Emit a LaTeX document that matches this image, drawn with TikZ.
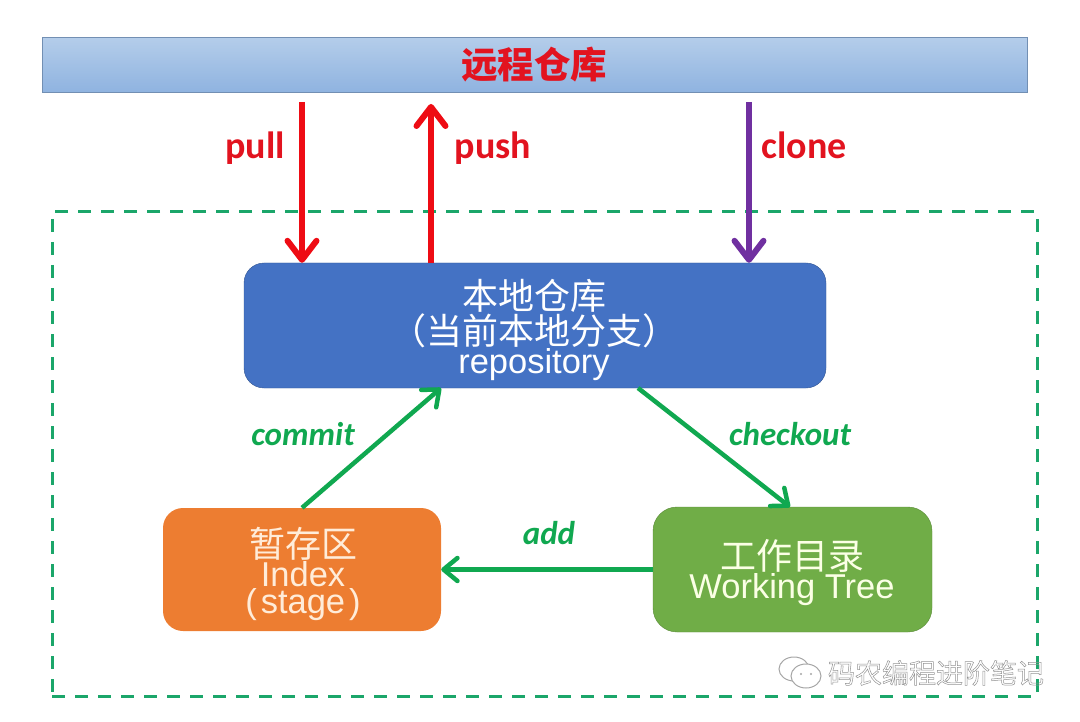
\documentclass[tikz,border=0pt]{standalone}
\usepackage{fontspec}
\setmainfont{Carlito}
\newfontfamily\cjk{Noto Sans CJK SC}
\newfontfamily\plainfont{Liberation Sans}
\usetikzlibrary{arrows.meta}
\definecolor{remotetop}{HTML}{B4CDEA}
\definecolor{remotebot}{HTML}{8FB3E0}
\definecolor{arrowred}{HTML}{EE0C14}
\definecolor{labelred}{HTML}{E2131F}
\definecolor{clonepurple}{HTML}{7030A0}
\definecolor{arrowgreen}{HTML}{10A850}
\definecolor{framegreen}{HTML}{1BA66A}
\definecolor{localblue}{HTML}{4472C4}
\definecolor{indexorange}{HTML}{ED7D31}
\definecolor{workgreen}{HTML}{70AD47}
\newcommand{\cjkline}{\cjk\fontsize{36}{44.5}\selectfont}
\newcommand{\latinline}{\plainfont\fontsize{34.5}{44.5}\selectfont}
\begin{document}
\begin{tikzpicture}[x=1pt, y=-1pt,
    boxshape/.style={rectangle, rounded corners=20pt, inner sep=0pt},
    boxtext/.style={align=center, inner sep=0pt},
    bigarrow/.style={line width=6pt, -{Straight Barb[length=19pt,width=29pt,line width=6pt,round]}},
    smallarrow/.style={arrowgreen, line width=4.5pt, -{Straight Barb[length=14pt,width=23pt,line width=4.5pt,round]}},
    remotelabel/.style={labelred, anchor=base, font=\fontsize{38}{38}\selectfont\bfseries},
    gitlabel/.style={arrowgreen, anchor=base, font=\fontsize{33}{33}\selectfont\bfseries\itshape}]
  \useasboundingbox (0,0) rectangle (1080,722);
  \node[draw=framegreen, line width=3pt, dash pattern=on 13pt off 10pt, rectangle, inner sep=0pt,
    minimum width=985pt, minimum height=484pt] (frame) at (544.5,454) {};
  \node[draw=remotebot!80!black, top color=remotetop, bottom color=remotebot, rectangle, inner sep=0pt,
    minimum width=985pt, minimum height=55pt] (remote) at (534.5,65) {};
  \node[labelred, font=\cjk\fontsize{36.5}{36.5}\selectfont\bfseries] (remotetext) at (534,65) {远程仓库};
  \node[boxshape, draw=localblue!75!black, fill=localblue, minimum width=582pt, minimum height=125pt] (local) at (535,325.5) {};
  \node[boxshape, fill=indexorange, minimum width=278pt, minimum height=123pt] (index) at (302,569.5) {};
  \node[boxshape, draw=workgreen!80!black, fill=workgreen, rounded corners=24pt,
    minimum width=279pt, minimum height=125pt] (work) at (792.5,569.5) {};
  \node[boxtext, white] (localtext) at (534,330) {\cjkline 本地仓库\\\cjkline （当前本地分支）\\\latinline repository};
  \node[boxtext, orange!15] (indextext) at (303,574) {\cjkline 暂存区\\\latinline Index\\\latinline (\kern4pt stage\kern4pt)};
  \node[boxtext, green!15!yellow!10] (worktext) at (792,572.5) {\cjkline 工作目录\\\latinline Working Tree};
  \coordinate (pullstart) at (302,102);
  \coordinate (pushend) at (431,104);
  \coordinate (clonestart) at (749,102);
  \draw[bigarrow, arrowred] (pullstart) -- (pullstart |- local.north);
  \draw[bigarrow, arrowred] (pushend |- local.north) -- (pushend);
  \draw[bigarrow, clonepurple] (clonestart) -- (clonestart |- local.north);
  \coordinate (commitend) at (441,388);
  \coordinate (checkstart) at (638,388);
  \coordinate (checkend) at (790,507);
  \draw[smallarrow] (index.north) -- (commitend);
  \draw[smallarrow] (checkstart) -- (checkend);
  \draw[smallarrow] (work.west) -- (index.east);
  \node[remotelabel] (pull) at (255,159) {pull};
  \node[remotelabel] (push) at (493,159) {push};
  \node[remotelabel] (clone) at (804,159) {clone};
  \node[gitlabel] (commit) at (303,445) {commit};
  \node[gitlabel] (checkout) at (790,445) {checkout};
  \node[gitlabel] (add) at (549,544) {add};
  \draw[gray!70, fill=white, line width=1pt] (794,669) ellipse (15pt and 12pt);
  \draw[gray!70, fill=white, line width=1pt] (806,676) ellipse (15pt and 12pt);
  \fill[gray!70] (801,674) circle (1.2pt) (811,674) circle (1.2pt);
  \node[gray!85, font=\cjk\fontsize{27}{27}\selectfont] (mark) at (936,673) {\special{pdf:code 1 Tr 0.5 w}码农编程进阶笔记\special{pdf:code 0 Tr}};
\end{tikzpicture}
\end{document}
